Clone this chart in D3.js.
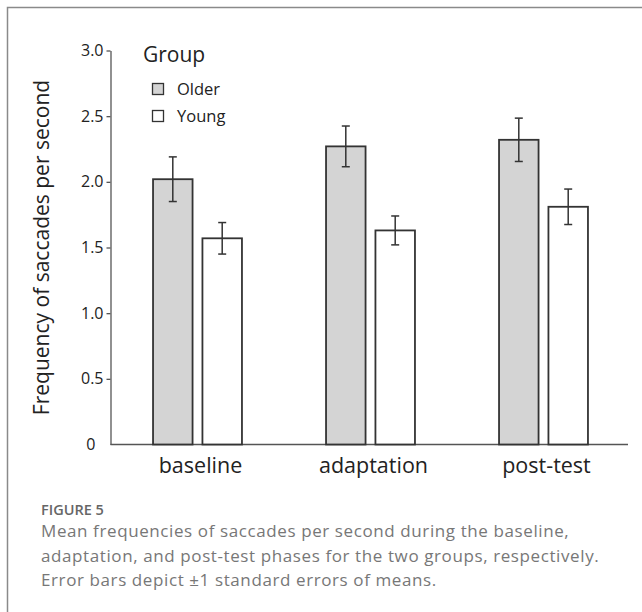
<!DOCTYPE html>
<html>
<head>
<meta charset="utf-8">
<script src="https://cdn.jsdelivr.net/npm/d3@7"></script>
<style>
body { margin: 0; background: #fff; }
</style>
</head>
<body>
<div id="chart"></div>
<script>
var categories = ["baseline", "adaptation", "post-test"];
var groups = ["Older", "Young"];
var olderMean = [2.02, 2.27, 2.32];
var youngMean = [1.57, 1.63, 1.81];
var olderSE = [0.17, 0.155, 0.165];
var youngSE = [0.12, 0.11, 0.135];
var yTicks = [0, 0.5, 1.0, 1.5, 2.0, 2.5, 3.0];
var captionLines = [
    "Mean frequencies of saccades per second during the baseline,",
    "adaptation, and post-test phases for the two groups, respectively.",
    "Error bars depict \u00b11 standard errors of means."
];

var width = 642;
var height = 612;
var fills = {"Older": "#d4d4d4", "Young": "#ffffff"};

// rows for drawing
var rows = [];
for (var i = 0; i < categories.length; i++) {
    rows.push({cat: categories[i], group: "Older", mean: olderMean[i], se: olderSE[i]});
    rows.push({cat: categories[i], group: "Young", mean: youngMean[i], se: youngSE[i]});
}

var svg = d3.select("#chart")
    .append("svg")
    .attr("width", width)
    .attr("height", height);

// frame round the figure
svg.append("rect")
    .attr("x", 7.5)
    .attr("y", 7.5)
    .attr("width", 700)
    .attr("height", 700)
    .attr("fill", "none")
    .attr("stroke", "#8a8a8a")
    .attr("stroke-width", 1.5);

var x0 = d3.scaleBand()
    .domain(categories)
    .range([111, 630])
    .paddingInner(0.486)
    .paddingOuter(0.243);

var x1 = d3.scaleBand()
    .domain(groups)
    .range([0, x0.bandwidth()])
    .paddingInner(0.2);

var y = d3.scaleLinear()
    .domain([0, 3])
    .range([444.5, 50.5]);

// y axis
var yAxis = svg.append("g")
    .attr("transform", "translate(110.5,0)")
    .call(d3.axisLeft(y)
        .tickValues(yTicks)
        .tickSize(4)
        .tickSizeOuter(0)
        .tickFormat(function(d) { return d === 0 ? "0" : d3.format(".1f")(d); }));
yAxis.select(".domain").attr("stroke", "#555").attr("stroke-width", 1.3);
yAxis.selectAll(".tick line").attr("stroke", "#555").attr("stroke-width", 1.3)
    .filter(function(d) { return d === 0; }).remove();
yAxis.selectAll(".tick text")
    .attr("font-family", "'Open Sans', sans-serif")
    .attr("font-size", 16)
    .attr("fill", "#222")
    .attr("x", function(d) { return d === 0 ? -15 : -7; });

// x axis line
svg.append("line")
    .attr("x1", 110.5)
    .attr("x2", 628)
    .attr("y1", y(0))
    .attr("y2", y(0))
    .attr("stroke", "#555")
    .attr("stroke-width", 1.3);

// bars
var gBar = svg.append("g");
gBar.selectAll("rect")
    .data(rows)
    .enter()
    .append("rect")
    .attr("x", function(d) { return x0(d.cat) + x1(d.group); })
    .attr("y", function(d) { return y(d.mean); })
    .attr("width", x1.bandwidth())
    .attr("height", function(d) { return y(0) - y(d.mean); })
    .attr("fill", function(d) { return fills[d.group]; })
    .attr("stroke", "#333")
    .attr("stroke-width", 1.8);

// error bars
var gErr = svg.append("g")
    .attr("stroke", "#333")
    .attr("stroke-width", 1.5);
var err = gErr.selectAll("g")
    .data(rows)
    .enter()
    .append("g")
    .attr("transform", function(d) {
        return "translate(" + (x0(d.cat) + x1(d.group) + x1.bandwidth() / 2) + ",0)";
    });
err.append("line")
    .attr("y1", function(d) { return y(d.mean + d.se); })
    .attr("y2", function(d) { return y(d.mean - d.se); });
err.append("line")
    .attr("x1", -4).attr("x2", 4)
    .attr("y1", function(d) { return y(d.mean + d.se); })
    .attr("y2", function(d) { return y(d.mean + d.se); });
err.append("line")
    .attr("x1", -4).attr("x2", 4)
    .attr("y1", function(d) { return y(d.mean - d.se); })
    .attr("y2", function(d) { return y(d.mean - d.se); });

// category labels
svg.append("g")
    .selectAll("text")
    .data(categories)
    .enter()
    .append("text")
    .attr("x", function(d) { return x0(d) + x0.bandwidth() / 2 + 3; })
    .attr("y", 473)
    .attr("text-anchor", "middle")
    .attr("font-family", "'Open Sans', sans-serif")
    .attr("font-size", 21.5)
    .attr("fill", "#222")
    .text(function(d) { return d; });

// y title
svg.append("text")
    .attr("transform", "translate(49," + ((y(0) + y(3)) / 2) + ") rotate(-90)")
    .attr("text-anchor", "middle")
    .attr("font-family", "'Open Sans', sans-serif")
    .attr("font-size", 21)
    .attr("fill", "#222")
    .text("Frequency of saccades per second");

// legend
var gLegend = svg.append("g");
gLegend.append("text")
    .attr("x", 143)
    .attr("y", 62)
    .attr("font-family", "'Open Sans', sans-serif")
    .attr("font-size", 21)
    .attr("fill", "#222")
    .text("Group");
var item = gLegend.selectAll("g")
    .data(groups)
    .enter()
    .append("g")
    .attr("transform", function(d, i) { return "translate(152," + (83 + i * 27) + ")"; });
item.append("rect")
    .attr("x", 0.5)
    .attr("y", 0.5)
    .attr("width", 11)
    .attr("height", 11)
    .attr("fill", function(d) { return fills[d]; })
    .attr("stroke", "#333")
    .attr("stroke-width", 1.3);
item.append("text")
    .attr("x", 25)
    .attr("y", 12)
    .attr("font-family", "'Open Sans', sans-serif")
    .attr("font-size", 16.5)
    .attr("fill", "#222")
    .text(function(d) { return d; });

// caption
svg.append("text")
    .attr("x", 41)
    .attr("y", 515)
    .attr("font-family", "'Open Sans', sans-serif")
    .attr("font-size", 14.5)
    .attr("font-weight", 600)
    .attr("fill", "#666")
    .text("FIGURE 5");
svg.append("g")
    .selectAll("text")
    .data(captionLines)
    .enter()
    .append("text")
    .attr("x", 41)
    .attr("y", function(d, i) { return 537 + i * 24.5; })
    .attr("font-family", "'Open Sans', sans-serif")
    .attr("font-size", 17)
    .attr("letter-spacing", 0.6)
    .attr("fill", "#777")
    .text(function(d) { return d; });
</script>
</body>
</html>
